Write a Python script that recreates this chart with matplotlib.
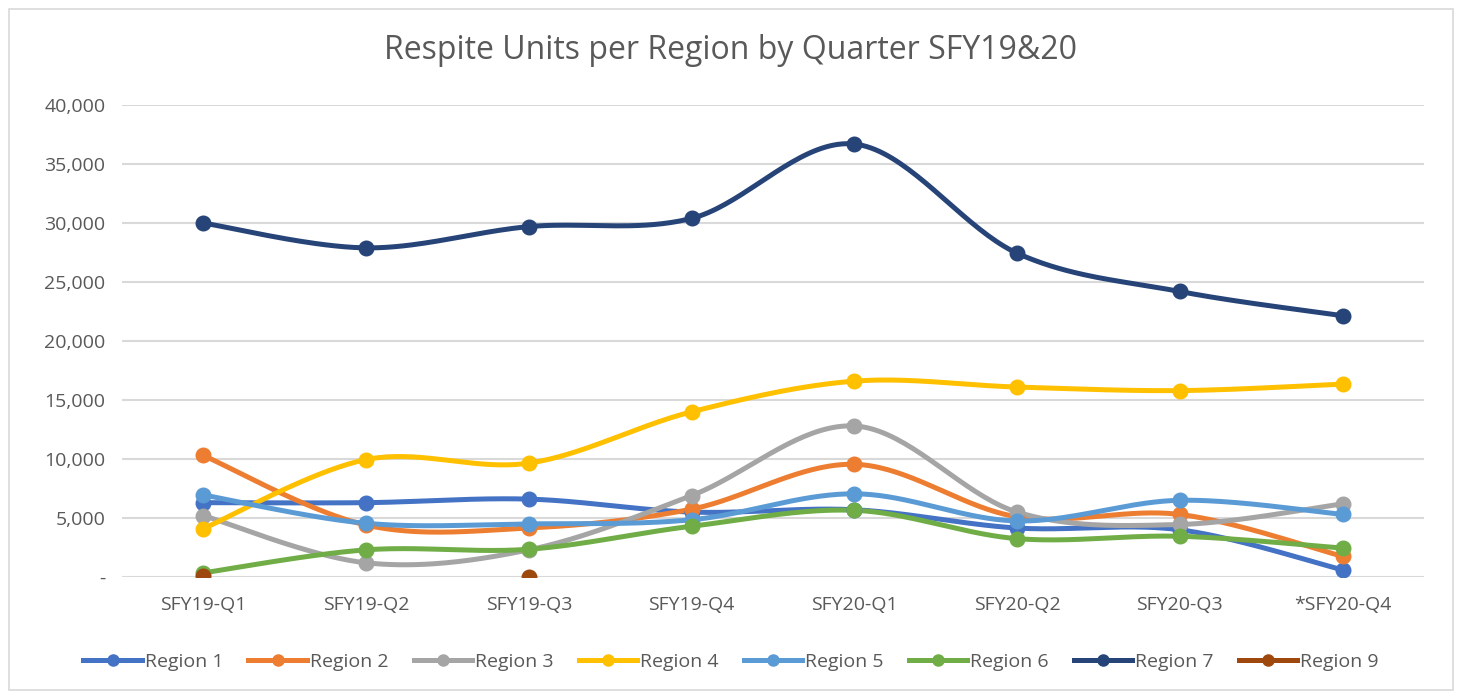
import numpy as np
import matplotlib.pyplot as plt
from matplotlib.patches import Rectangle

# ==========================================
# Datos
# ==========================================

quarters = ['SFY19-Q1', 'SFY19-Q2', 'SFY19-Q3', 'SFY19-Q4',
            'SFY20-Q1', 'SFY20-Q2', 'SFY20-Q3', '*SFY20-Q4']

region_1 = [6300, 6300, 6600, 5500, 5700, 4150, 4000, 600]
region_2 = [10300, 4400, 4150, 5750, 9550, 5100, 5300, 1750]
region_3 = [5200, 1200, 2300, 6900, 12800, 5500, 4450, 6200]
region_4 = [4100, 9950, 9650, 14000, 16600, 16100, 15800, 16350]
region_5 = [6950, 4550, 4500, 4850, 7050, 4750, 6500, 5300]
region_6 = [350, 2300, 2350, 4300, 5650, 3250, 3450, 2450]
region_7 = [30000, 27900, 29700, 30400, 36700, 27450, 24200, 22150]
region_9 = [100, np.nan, 0, np.nan, np.nan, np.nan, np.nan, np.nan]

series = [('Region 1', region_1, '#4472C4'),
          ('Region 2', region_2, '#ED7D31'),
          ('Region 3', region_3, '#A5A5A5'),
          ('Region 4', region_4, '#FFC000'),
          ('Region 5', region_5, '#5B9BD5'),
          ('Region 6', region_6, '#70AD47'),
          ('Region 7', region_7, '#264478'),
          ('Region 9', region_9, '#9E480E')]


# curva suavizada estilo Excel (Bezier tipo Catmull-Rom)
def smooth(x, y, n=40):
    x = np.asarray(x, float)
    y = np.asarray(y, float)
    px = np.concatenate([[x[0]], x, [x[-1]]])
    py = np.concatenate([[y[0]], y, [y[-1]]])
    t = np.linspace(0, 1, n)[:, None]
    xs, ys = [], []
    for i in range(1, len(px) - 2):
        p0 = np.array([px[i], py[i]])
        p3 = np.array([px[i + 1], py[i + 1]])
        c1 = p0 + (np.array([px[i + 1], py[i + 1]]) - np.array([px[i - 1], py[i - 1]])) / 6
        c2 = p3 - (np.array([px[i + 2], py[i + 2]]) - np.array([px[i], py[i]])) / 6
        b = ((1 - t) ** 3) * p0 + 3 * ((1 - t) ** 2) * t * c1 \
            + 3 * (1 - t) * t ** 2 * c2 + t ** 3 * p3
        xs.append(b[:, 0])
        ys.append(b[:, 1])
    return np.concatenate(xs), np.concatenate(ys)


# ==========================================
# Gráfico
# ==========================================

plt.rcParams['font.family'] = ['Open Sans', 'DejaVu Sans']

fig = plt.figure(figsize=(14.62, 6.98), dpi=100)
fig.patches.append(Rectangle((0.006, 0.012), 0.988, 0.975,
                             transform=fig.transFigure, fill=False,
                             edgecolor='#D9D9D9', lw=1.2))

ax = fig.add_axes([0.0834, 0.1734, 0.8906, 0.676])

xpos = np.arange(len(quarters))

for name, vals, color in series:
    vals = np.asarray(vals, float)
    ok = ~np.isnan(vals)
    if ok.sum() == len(vals):
        sx, sy = smooth(xpos, vals)
        ax.plot(sx, sy, color=color, lw=3.6, solid_capstyle='round', zorder=3)
    ax.plot(xpos[ok], vals[ok], 'o', color=color, markersize=10.5, zorder=4)
    ax.plot([], [], color=color, lw=3.6, marker='o', markersize=8, label=name)

ax.set_xlim(-0.5, 7.5)
ax.set_ylim(0, 40000)
ax.set_xticks(xpos)
ax.set_xticklabels(quarters, fontsize=14, color='#595959')
yt = np.arange(0, 40001, 5000)
ax.set_yticks(yt)
ax.set_yticklabels(['-' if v == 0 else f'{v:,}' for v in yt],
                   fontsize=14, color='#595959')
ax.tick_params(length=0, pad=14)
ax.tick_params(axis='y', pad=12)
ax.grid(axis='y', color='#D9D9D9', lw=1.5)
ax.set_axisbelow(True)
for s in ax.spines.values():
    s.set_visible(False)

fig.text(0.5, 0.927, 'Respite Units per Region by Quarter SFY19&20',
         ha='center', va='center', fontsize=23, color='#595959')

fig.legend(loc='center', bbox_to_anchor=(0.5, 0.052), ncol=8, frameon=False,
           fontsize=14, labelcolor='#595959', handlelength=3.0,
           handletextpad=0.15, columnspacing=1.3)

fig.savefig('out.png', dpi=100)
